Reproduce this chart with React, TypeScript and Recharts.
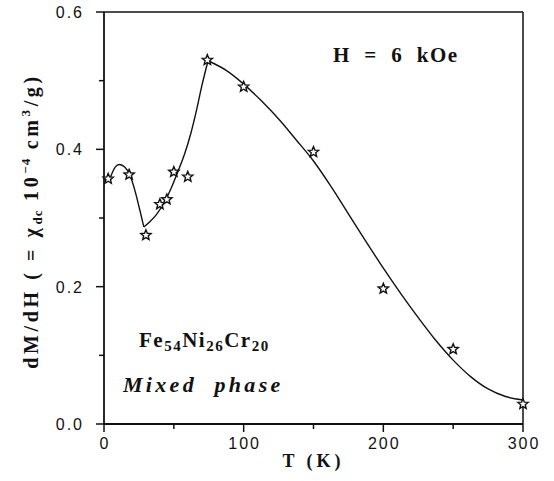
import React from 'react';
import {
  ComposedChart,
  Line,
  Scatter,
  XAxis,
  YAxis,
  ReferenceLine,
  Label,
} from 'recharts';

// measured points (T in K, dM/dH in 1e-4 cm3/g)
const measuredT = [3, 18, 30, 40, 45, 50, 60, 74, 100, 150, 200, 250, 300];
const measuredChi = [0.357, 0.363, 0.275, 0.32, 0.327, 0.367, 0.36, 0.53, 0.491, 0.396, 0.197, 0.109, 0.029];

// fitted guide curve in three pieces (kinks at ~28 K and ~75 K)
const lowT = [4, 8, 11, 15, 18.5, 22, 25.6, 28.5];
const lowChi = [0.356, 0.374, 0.378, 0.374, 0.363, 0.341, 0.312, 0.287];
const riseT = [28.5, 33, 37.5, 43.5, 48, 53, 58, 62, 66, 70, 74.5];
const riseChi = [0.287, 0.295, 0.305, 0.324, 0.343, 0.368, 0.395, 0.422, 0.455, 0.492, 0.529];
const fallT = [74.5, 87.5, 100, 112.5, 126, 137.5, 150, 162.5, 175, 187.5, 200, 212.5, 225, 237.5, 250, 262.5, 275, 287.5, 300];
const fallChi = [0.529, 0.515, 0.495, 0.471, 0.442, 0.414, 0.383, 0.346, 0.306, 0.266, 0.227, 0.19, 0.155, 0.122, 0.093, 0.069, 0.051, 0.04, 0.035];

const xTicks = [0, 50, 100, 150, 200, 250, 300];
const xLabelled = [0, 100, 200, 300];
const yTicks = [0, 0.1, 0.2, 0.3, 0.4, 0.5, 0.6];
const yLabelled = [0, 0.2, 0.4, 0.6];

const toRows = (ts: number[], vs: number[]) => ts.map((t, i) => ({ t, v: vs[i] }));

const points = toRows(measuredT, measuredChi);
const curveLow = toRows(lowT, lowChi);
const curveRise = toRows(riseT, riseChi);
const curveFall = toRows(fallT, fallChi);

const INK = '#111';
const tickFont = { fontFamily: '"Liberation Sans", Arial, sans-serif', fontSize: 16, letterSpacing: 2, fill: INK };
const serif = '"Liberation Serif", "Times New Roman", serif';

const XTick = (props: any) => {
  const { x, y, payload } = props;
  const major = xLabelled.includes(payload.value);
  return (
    <g>
      <line x1={x} x2={x} y1={y} y2={y + (major ? 8 : 5)} stroke={INK} strokeWidth={1.5} />
      {major && (
        <text x={x + 1} y={y + 25} textAnchor="middle" style={tickFont}>
          {payload.value}
        </text>
      )}
    </g>
  );
};

const YTick = (props: any) => {
  const { x, y, payload } = props;
  const major = yLabelled.some((v) => Math.abs(v - payload.value) < 1e-6);
  return (
    <g>
      <line x1={x} x2={x - (major ? 8 : 5)} y1={y} y2={y} stroke={INK} strokeWidth={1.5} />
      {major && (
        <text x={x - 20} y={y + 6} textAnchor="end" style={tickFont}>
          {payload.value.toFixed(1)}
        </text>
      )}
    </g>
  );
};

// hollow five-pointed star
const Star = (props: any) => {
  const { cx, cy } = props;
  if (cx == null || cy == null) return null;
  const pts: string[] = [];
  for (let i = 0; i < 10; i++) {
    const r = i % 2 === 0 ? 5.4 : 2.4;
    const a = -Math.PI / 2 + (i * Math.PI) / 5;
    pts.push(`${cx + r * Math.cos(a)},${cy + r * Math.sin(a)}`);
  }
  return <polygon points={pts.join(' ')} fill="#fff" stroke={INK} strokeWidth={1.4} />;
};

const YTitle = (props: any) => {
  const vb = props.viewBox || { x: 0, y: 12, width: 104, height: 412 };
  const cx = 38;
  const cy = vb.y + vb.height / 2 + 3;
  return (
    <text
      x={cx}
      y={cy}
      textAnchor="middle"
      transform={`rotate(-90, ${cx}, ${cy})`}
      style={{ fontFamily: serif, fontWeight: 700, fontSize: 20, letterSpacing: 3.6, fill: INK }}
      xmlSpace="preserve"
    >
      <tspan>{'dM/dH ( = χ'}</tspan>
      <tspan dy={4} fontSize={13} letterSpacing={1}>dc</tspan>
      <tspan dy={-4}>{' 10'}</tspan>
      <tspan dy={-8} fontSize={13} letterSpacing={1}>−4</tspan>
      <tspan dy={8}>{' cm'}</tspan>
      <tspan dy={-8} fontSize={13}>3</tspan>
      <tspan dy={8}>/g)</tspan>
    </text>
  );
};

const XTitle = (props: any) => {
  const vb = props.viewBox || { x: 104, y: 424, width: 419, height: 57 };
  const cx = vb.x + vb.width / 2;
  return (
    <text
      x={cx}
      y={467}
      textAnchor="middle"
      style={{ fontFamily: serif, fontWeight: 700, fontSize: 18, letterSpacing: 4, fill: INK }}
    >
      T (K)
    </text>
  );
};

export default function App() {
  return (
    <div style={{ position: 'absolute', left: 0, top: 0, width: 554, height: 481, background: '#fff' }}>
      <ComposedChart width={554} height={481} margin={{ top: 12, right: 31, bottom: 0, left: 0 }}>
        <XAxis
          type="number"
          dataKey="t"
          domain={[0, 300]}
          ticks={xTicks}
          height={57}
          tickSize={0}
          tickMargin={0}
          tickLine={false}
          tick={<XTick />}
          axisLine={{ stroke: INK, strokeWidth: 1.8 }}
          interval={0}
        >
          <Label content={<XTitle />} />
        </XAxis>
        <YAxis
          type="number"
          dataKey="v"
          domain={[0, 0.6]}
          ticks={yTicks}
          width={104}
          tickSize={0}
          tickMargin={0}
          tickLine={false}
          tick={<YTick />}
          axisLine={{ stroke: INK, strokeWidth: 1.8 }}
          interval={0}
        >
          <Label content={<YTitle />} />
        </YAxis>
        <ReferenceLine y={0.6} stroke={INK} strokeWidth={1.5} />
        <ReferenceLine x={300} stroke={INK} strokeWidth={1.5} />
        <Line data={curveLow} dataKey="v" type="monotone" stroke={INK} strokeWidth={1.4} dot={false} isAnimationActive={false} />
        <Line data={curveRise} dataKey="v" type="monotone" stroke={INK} strokeWidth={1.4} dot={false} isAnimationActive={false} />
        <Line data={curveFall} dataKey="v" type="monotone" stroke={INK} strokeWidth={1.4} dot={false} isAnimationActive={false} />
        <Scatter data={points} dataKey="v" shape={<Star />} isAnimationActive={false} />
      </ComposedChart>
      <svg
        width={554}
        height={481}
        style={{ position: 'absolute', left: 0, top: 0, pointerEvents: 'none' }}
      >
        <text
          x={333}
          y={62}
          style={{ fontFamily: serif, fontWeight: 700, fontSize: 21, letterSpacing: 1.5, fill: INK }}
          xmlSpace="preserve"
        >
          {'H  =  6  kOe'}
        </text>
        <text x={139} y={347} style={{ fontFamily: serif, fontWeight: 700, fontSize: 21, letterSpacing: 1.5, fill: INK }}>
          <tspan>Fe</tspan>
          <tspan dy={4} fontSize={15}>54</tspan>
          <tspan dy={-4}>Ni</tspan>
          <tspan dy={4} fontSize={15}>26</tspan>
          <tspan dy={-4}>Cr</tspan>
          <tspan dy={4} fontSize={15}>20</tspan>
        </text>
        <text
          x={123}
          y={392}
          style={{ fontFamily: serif, fontWeight: 700, fontStyle: 'italic', fontSize: 22, letterSpacing: 3.3, fill: INK }}
          xmlSpace="preserve"
        >
          {'Mixed  phase'}
        </text>
      </svg>
    </div>
  );
}
